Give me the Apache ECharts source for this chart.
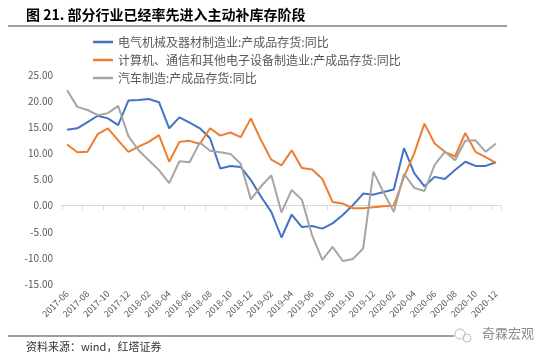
<!DOCTYPE html>
<html>
<head>
<meta charset="utf-8">
<script src="https://cdn.jsdelivr.net/npm/echarts@6/dist/echarts.min.js"></script>
<style>html,body{margin:0;padding:0;background:#fff;}#c{width:550px;height:364px;}</style>
</head>
<body>
<div id="c"></div>
<script>
var categories = ['2017-06','2017-07','2017-08','2017-09','2017-10','2017-11','2017-12',
'2018-01','2018-02','2018-03','2018-04','2018-05','2018-06','2018-07','2018-08','2018-09','2018-10','2018-11','2018-12',
'2019-01','2019-02','2019-03','2019-04','2019-05','2019-06','2019-07','2019-08','2019-09','2019-10','2019-11','2019-12',
'2020-01','2020-02','2020-03','2020-04','2020-05','2020-06','2020-07','2020-08','2020-09','2020-10','2020-11','2020-12'];
var seriesNames = ['电气机械及器材制造业:产成品存货:同比','计算机、通信和其他电子设备制造业:产成品存货:同比','汽车制造:产成品存货:同比'];
var electrical = [14.5,14.8,16.0,17.2,16.7,15.4,20.1,20.2,20.4,19.8,14.8,16.9,15.9,14.8,12.9,7.1,7.6,7.4,4.9,1.7,-1.2,-6.1,-1.7,-4.1,-3.9,-4.4,-3.4,-1.8,0.1,2.3,2.1,2.6,3.1,11.0,6.2,3.7,5.5,5.1,6.8,8.4,7.6,7.6,8.3];
var computer = [11.7,10.2,10.3,13.7,14.8,12.5,10.3,11.3,12.2,13.5,8.4,12.2,12.4,11.8,14.8,13.4,14.0,13.1,16.7,12.5,8.8,7.7,10.6,7.2,6.9,5.1,0.7,0.4,-0.5,-0.5,-0.3,-0.1,0.0,5.5,10.0,15.7,11.9,10.3,9.4,13.9,10.3,9.3,8.2];
var auto = [22.1,18.9,18.3,17.3,17.7,19.1,13.3,10.6,8.7,6.8,4.3,8.5,8.3,12.1,10.5,10.2,9.9,8.0,1.2,3.7,5.8,-1.3,3.0,1.1,-5.7,-10.4,-7.9,-10.6,-10.2,-8.2,6.5,2.5,-1.2,6.1,3.4,2.8,7.8,10.3,8.7,12.4,12.5,10.3,11.9];
var colors = ['#4472C4','#ED7D31','#A5A5A5'];

var chart = echarts.init(document.getElementById('c'), null, {renderer:'canvas'});
var font = '"Noto Sans CJK SC", "Noto Sans", sans-serif';
function mkSeries(name, data, color){
  return {name:name, type:'line', data:data, xAxisIndex:0, yAxisIndex:0,
    symbol:'none', smooth:false, lineStyle:{color:color, width:2}, itemStyle:{color:color}};
}
chart.setOption({
  animation:false,
  textStyle:{fontFamily:font},
  grid:{left:62, right:49, top:75, bottom:80, containLabel:false},
  legend:{
    orient:'vertical', left:93, top:36, padding:0, itemWidth:20, itemHeight:2.5, itemGap:6,
    icon:'rect',
    data:seriesNames,
    textStyle:{color:'#595959', fontSize:12, fontFamily:font}
  },
  xAxis:[{
    type:'category', data:categories, boundaryGap:true,
    axisLine:{show:true, onZero:true, lineStyle:{color:'#D9D9D9', width:1}},
    axisTick:{show:true, interval:1, length:4, lineStyle:{color:'#D9D9D9'}},
    axisLabel:{show:false},
    splitLine:{show:false}
  },{
    type:'category', data:categories, boundaryGap:true, position:'bottom',
    axisLine:{show:false, onZero:false},
    axisTick:{show:false},
    axisLabel:{show:true, interval:1, rotate:45, margin:8, color:'#595959', fontSize:9, fontFamily:font},
    splitLine:{show:false}
  }],
  yAxis:{
    type:'value', min:-15, max:25, interval:5,
    axisLine:{show:false}, axisTick:{show:false}, splitLine:{show:false},
    axisLabel:{color:'#595959', fontSize:10, margin:9, fontFamily:font,
      formatter:function(v){return v.toFixed(2);}}
  },
  series:[mkSeries(seriesNames[0], electrical, colors[0]),
          mkSeries(seriesNames[1], computer, colors[1]),
          mkSeries(seriesNames[2], auto, colors[2])],
  graphic:[
    {type:'text', left:26, top:8, style:{text:'图 21. 部分行业已经率先进入主动补库存阶段', fill:'#000', font:'bold 14px '+font}},
    {type:'line', shape:{x1:8,y1:26,x2:507,y2:26}, style:{stroke:'#7F7F7F', lineWidth:1.5}},
    {type:'line', shape:{x1:8,y1:336,x2:454,y2:336}, style:{stroke:'#7F7F7F', lineWidth:1.5}},
    {type:'text', left:26, top:341, style:{text:'资料来源：wind，红塔证券', fill:'#333', font:'11px '+font}},
    {type:'circle', shape:{cx:460,cy:334,r:5}, style:{fill:'none', stroke:'#BBBBBB', lineWidth:1}},
    {type:'circle', shape:{cx:467,cy:338,r:4}, style:{fill:'none', stroke:'#BBBBBB', lineWidth:1}},
    {type:'text', left:482, top:327, style:{text:'奇霖宏观', fill:'#8C8C8C', font:'13px '+font}}
  ]
});
</script>
</body>
</html>
